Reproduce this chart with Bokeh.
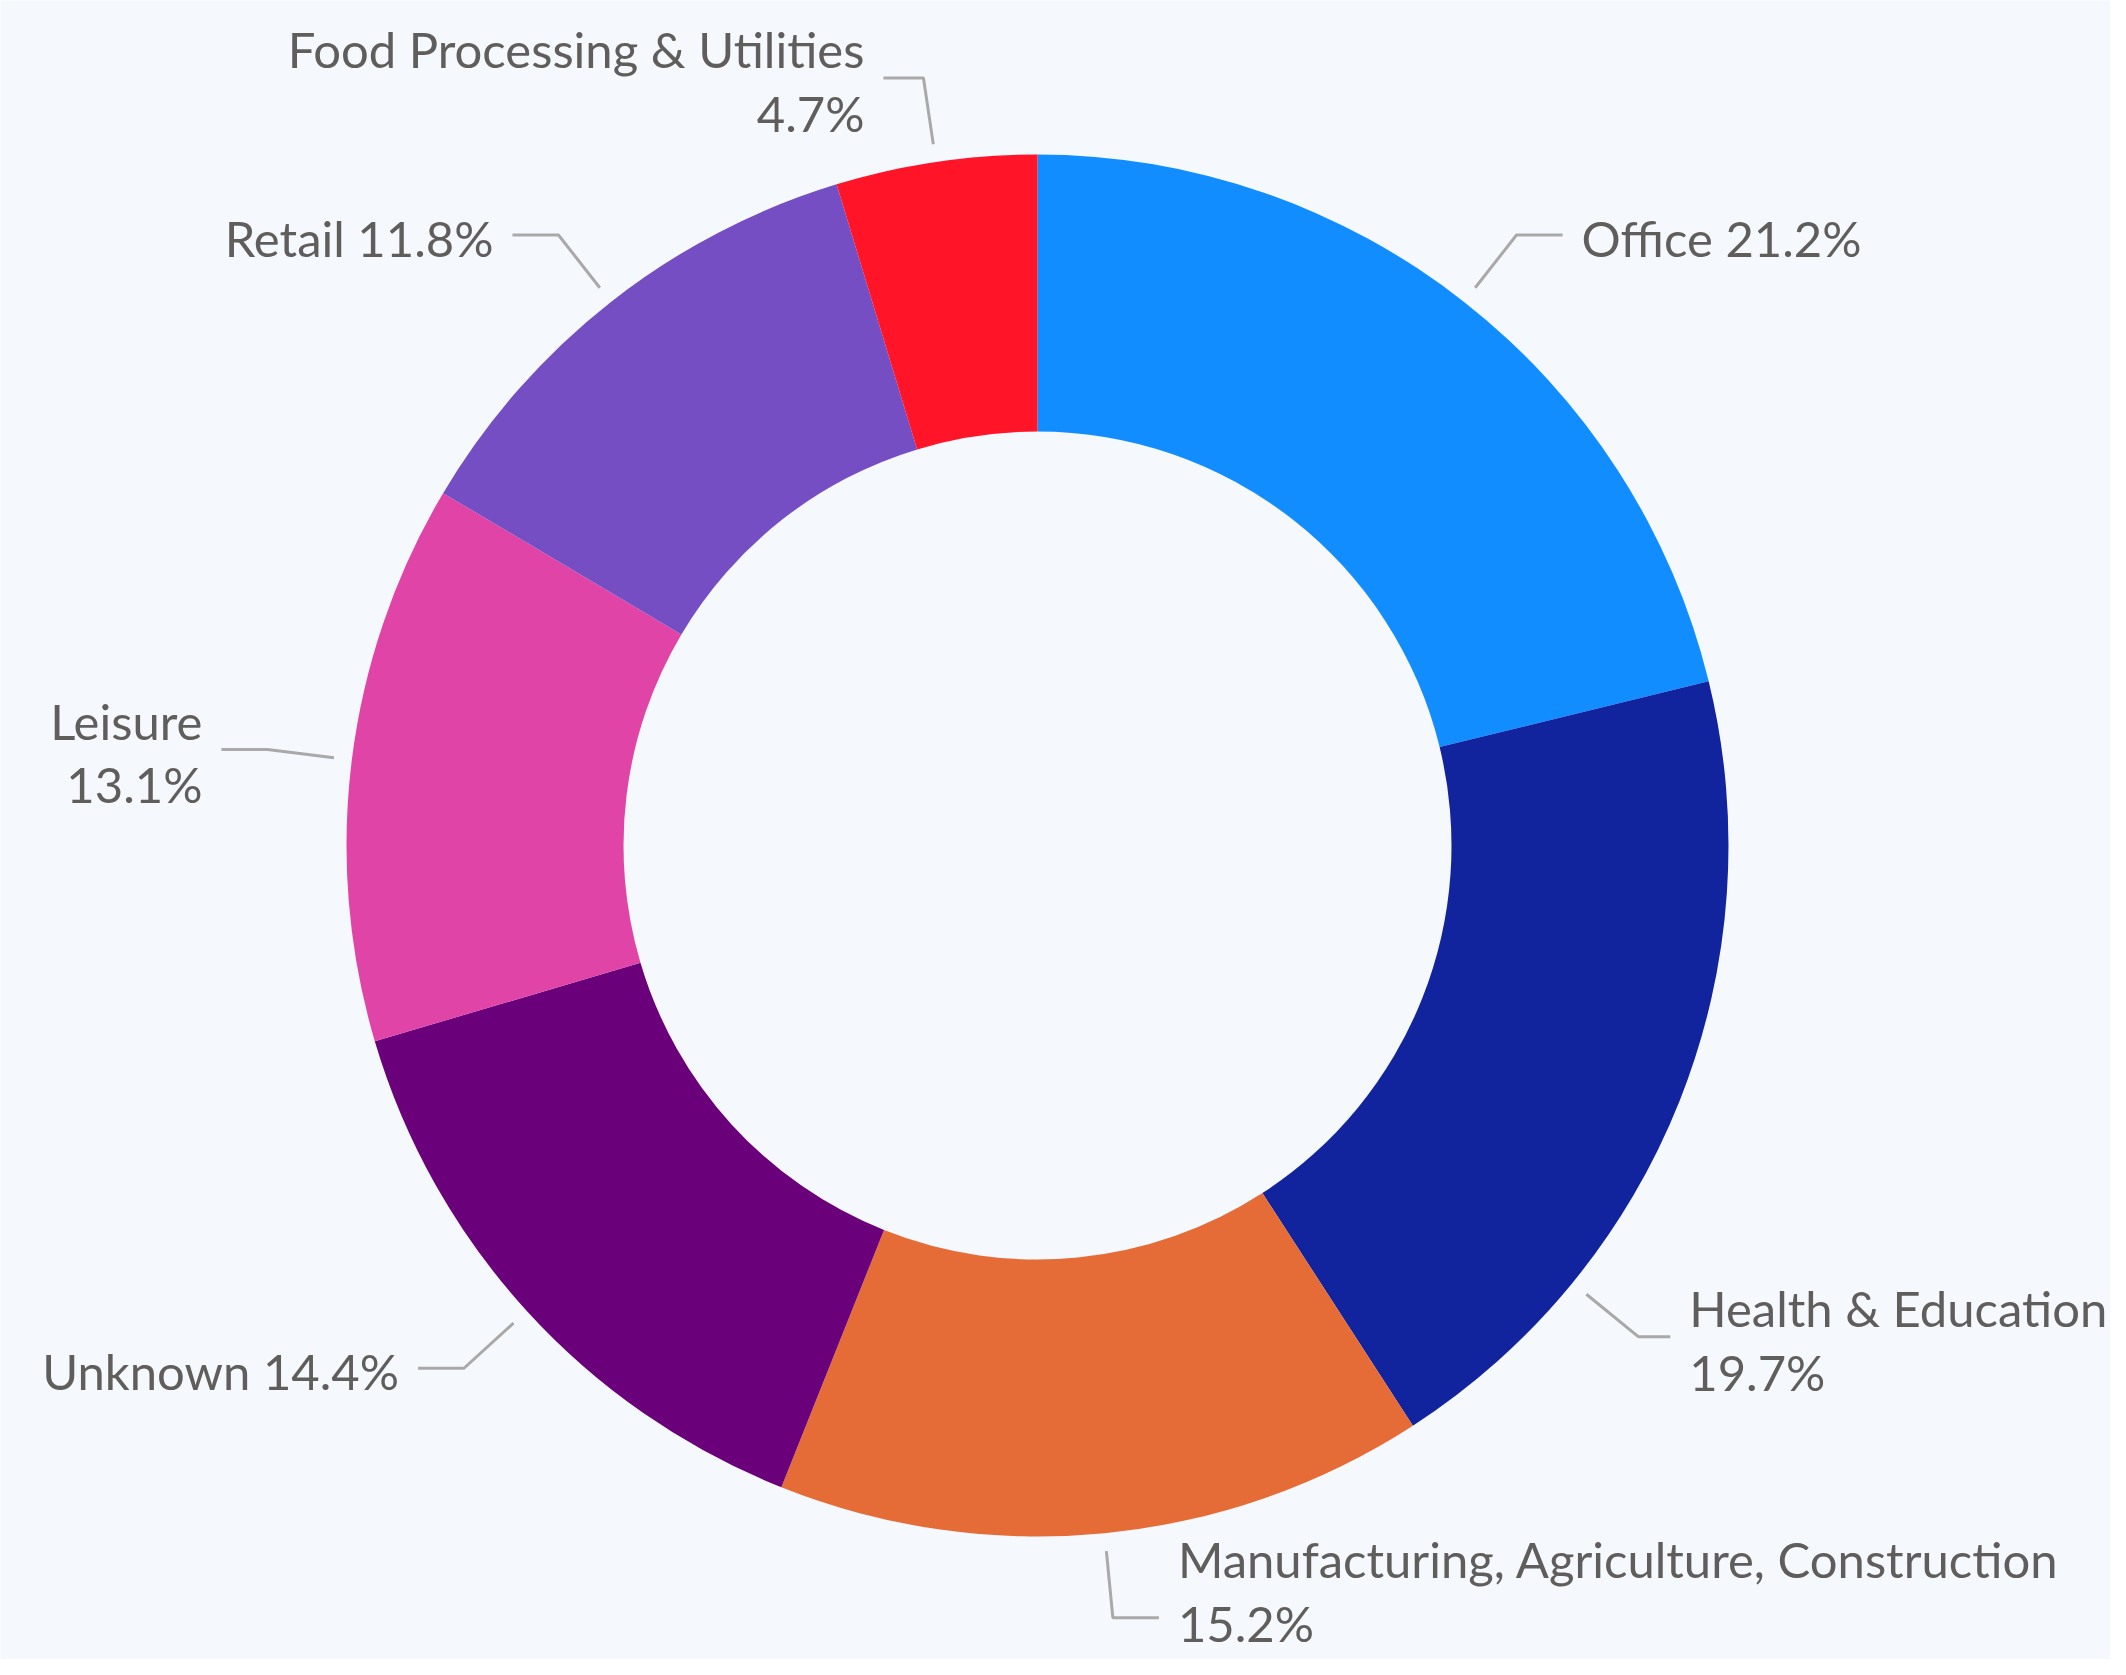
import math
from bokeh.plotting import figure
from bokeh.models import Range1d, ColumnDataSource
from bokeh.core.properties import value
from bokeh.embed import file_html
from bokeh.resources import INLINE

# ---- data ----
categories = ["Office", "Health & Education", "Manufacturing, Agriculture, Construction",
              "Unknown", "Leisure", "Retail", "Food Processing & Utilities"]
shares = [21.2, 19.7, 15.2, 14.4, 13.1, 11.8, 4.7]
colors = ["#118DFF", "#12239E", "#E66C37", "#6B007B", "#E044A7", "#744EC2", "#FF1428"]
two_line = [False, True, True, False, True, False, True]
# layout tweaks: angular shift (degrees) of the leader, vertical nudge (px) of the text,
# horizontal leader length (px)
label_shift = [0, 17.6, 0, 0, 0, 0, 0]
text_nudge = [0, 0, 30, 0, 0, 0, 0]
seg_len = [46, 32, 46, 46, 46, 46, 40]

# ---- layout ----
W, H = 2110, 1659
CX, CY = 1037, 814
R_OUT, R_IN = 691, 414
BG = "#F5F8FC"
TEXT = "#605E5C"
LINE = "#A9A9A9"
FONT = "Lato"
FSIZE = "49px"

total = sum(shares)
starts, ends, cum = [], [], 0.0
mids = []
for v in shares:
    a0 = cum / total
    cum += v
    a1 = cum / total
    starts.append(math.pi / 2 - 2 * math.pi * a0)
    ends.append(math.pi / 2 - 2 * math.pi * a1)
    mids.append((a0 + a1) / 2 * 360)

src = ColumnDataSource(dict(start=starts, end=ends, color=colors, cat=categories))

p = figure(width=W, height=H, x_range=Range1d(0, W), y_range=Range1d(0, H),
           output_backend="svg", toolbar_location=None, min_border=0,
           background_fill_color=BG, border_fill_color=BG, outline_line_color=None)
p.axis.visible = False
p.grid.visible = False

p.annular_wedge(x=CX, y=CY, inner_radius=R_IN, outer_radius=R_OUT,
                start_angle="start", end_angle="end", direction="clock",
                fill_color="color", line_color=None, source=src)

lx, ly, tx, ty, txt, align = [], [], [], [], [], []
for cat, v, mid, sh, nd, sl, two in zip(categories, shares, mids, label_shift,
                                        text_nudge, seg_len, two_line):
    th = math.radians(mid + sh)
    s, c = math.sin(th), math.cos(th)
    x0, y0 = CX + (R_OUT + 18) * s, CY + (R_OUT + 18) * c
    x1, y1 = CX + (R_OUT + 85) * s, CY + (R_OUT + 85) * c
    side = 1 if s >= 0 else -1
    x2 = x1 + side * sl
    lx.append([x0, x1, x2])
    ly.append([y0, y1, y1])
    tx.append(x2 + side * 19)
    ty.append(y1 - 3 + nd)
    txt.append(f"{cat}\n{v:.1f}%" if two else f"{cat} {v:.1f}%")
    align.append("left" if side > 0 else "right")

p.multi_line(xs=lx, ys=ly, line_color=LINE, line_width=3)
p.text(x=tx, y=ty, text=txt, text_align=align, text_baseline="middle",
       text_font=value(FONT), text_font_size=FSIZE, text_color=TEXT,
       text_line_height=1.1)

open("out.html", "w").write(file_html(p, INLINE))
